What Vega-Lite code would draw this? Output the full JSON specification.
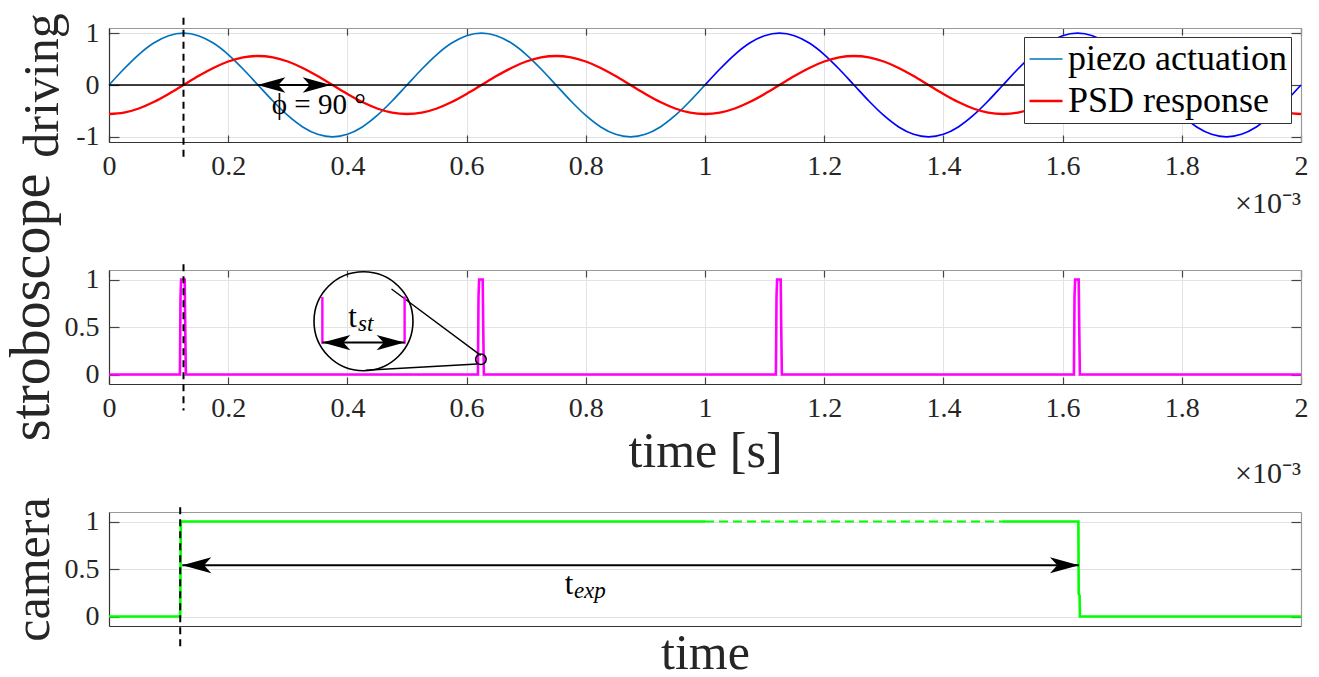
{
  "$schema": "https://vega.github.io/schema/vega-lite/v6.json",
  "padding": {"left": 3, "top": 12, "right": 5, "bottom": 2},
  "bounds": "flush",
  "spacing": 128,
  "background": "white",
  "config": {
    "font": "Liberation Serif",
    "view": {"stroke": null},
    "axis": {"labelFont": "Liberation Serif", "titleFont": "Liberation Serif", "labelFontSize": 28, "titleFontSize": 50, "titleFontWeight": "normal", "labelColor": "#262626", "titleColor": "#262626", "gridColor": "#e3e3e3", "gridWidth": 1, "tickColor": "#444", "domainColor": "#333", "domainWidth": 1.2, "tickWidth": 1.2, "labelFlush": false}
  },
  "datasets": {
    "one": [{}],
    "wave": [
      {"t":0,"p":0,"r":-0.56},{"t":0.025,"p":0.309,"r":-0.533},{"t":0.05,"p":0.588,"r":-0.453},{"t":0.075,"p":0.809,"r":-0.329},{"t":0.1,"p":0.951,"r":-0.173},
      {"t":0.125,"p":1,"r":0},{"t":0.15,"p":0.951,"r":0.173},{"t":0.175,"p":0.809,"r":0.329},{"t":0.2,"p":0.588,"r":0.453},{"t":0.225,"p":0.309,"r":0.533},
      {"t":0.25,"p":0,"r":0.56},{"t":0.275,"p":-0.309,"r":0.533},{"t":0.3,"p":-0.588,"r":0.453},{"t":0.325,"p":-0.809,"r":0.329},{"t":0.35,"p":-0.951,"r":0.173},
      {"t":0.375,"p":-1,"r":0},{"t":0.4,"p":-0.951,"r":-0.173},{"t":0.425,"p":-0.809,"r":-0.329},{"t":0.45,"p":-0.588,"r":-0.453},{"t":0.475,"p":-0.309,"r":-0.533},
      {"t":0.5,"p":0,"r":-0.56},{"t":0.525,"p":0.309,"r":-0.533},{"t":0.55,"p":0.588,"r":-0.453},{"t":0.575,"p":0.809,"r":-0.329},{"t":0.6,"p":0.951,"r":-0.173},
      {"t":0.625,"p":1,"r":0},{"t":0.65,"p":0.951,"r":0.173},{"t":0.675,"p":0.809,"r":0.329},{"t":0.7,"p":0.588,"r":0.453},{"t":0.725,"p":0.309,"r":0.533},
      {"t":0.75,"p":0,"r":0.56},{"t":0.775,"p":-0.309,"r":0.533},{"t":0.8,"p":-0.588,"r":0.453},{"t":0.825,"p":-0.809,"r":0.329},{"t":0.85,"p":-0.951,"r":0.173},
      {"t":0.875,"p":-1,"r":0},{"t":0.9,"p":-0.951,"r":-0.173},{"t":0.925,"p":-0.809,"r":-0.329},{"t":0.95,"p":-0.588,"r":-0.453},{"t":0.975,"p":-0.309,"r":-0.533},
      {"t":1,"p":0,"r":-0.56},{"t":1.025,"p":0.309,"r":-0.533},{"t":1.05,"p":0.588,"r":-0.453},{"t":1.075,"p":0.809,"r":-0.329},{"t":1.1,"p":0.951,"r":-0.173},
      {"t":1.125,"p":1,"r":0},{"t":1.15,"p":0.951,"r":0.173},{"t":1.175,"p":0.809,"r":0.329},{"t":1.2,"p":0.588,"r":0.453},{"t":1.225,"p":0.309,"r":0.533},
      {"t":1.25,"p":0,"r":0.56},{"t":1.275,"p":-0.309,"r":0.533},{"t":1.3,"p":-0.588,"r":0.453},{"t":1.325,"p":-0.809,"r":0.329},{"t":1.35,"p":-0.951,"r":0.173},
      {"t":1.375,"p":-1,"r":0},{"t":1.4,"p":-0.951,"r":-0.173},{"t":1.425,"p":-0.809,"r":-0.329},{"t":1.45,"p":-0.588,"r":-0.453},{"t":1.475,"p":-0.309,"r":-0.533},
      {"t":1.5,"p":0,"r":-0.56},{"t":1.525,"p":0.309,"r":-0.533},{"t":1.55,"p":0.588,"r":-0.453},{"t":1.575,"p":0.809,"r":-0.329},{"t":1.6,"p":0.951,"r":-0.173},
      {"t":1.625,"p":1,"r":0},{"t":1.65,"p":0.951,"r":0.173},{"t":1.675,"p":0.809,"r":0.329},{"t":1.7,"p":0.588,"r":0.453},{"t":1.725,"p":0.309,"r":0.533},
      {"t":1.75,"p":0,"r":0.56},{"t":1.775,"p":-0.309,"r":0.533},{"t":1.8,"p":-0.588,"r":0.453},{"t":1.825,"p":-0.809,"r":0.329},{"t":1.85,"p":-0.951,"r":0.173},
      {"t":1.875,"p":-1,"r":0},{"t":1.9,"p":-0.951,"r":-0.173},{"t":1.925,"p":-0.809,"r":-0.329},{"t":1.95,"p":-0.588,"r":-0.453},{"t":1.975,"p":-0.309,"r":-0.533},
      {"t":2,"p":0,"r":-0.56}
    ],
    "strobe": [
      {"t":0,"v":0},
      {"t":0.119,"v":0},{"t":0.12,"v":0.82},{"t":0.121,"v":1},{"t":0.127,"v":1},{"t":0.128,"v":0.45},{"t":0.129,"v":0},
      {"t":0.619,"v":0},{"t":0.62,"v":0.82},{"t":0.621,"v":1},{"t":0.627,"v":1},{"t":0.628,"v":0.45},{"t":0.629,"v":0},
      {"t":1.119,"v":0},{"t":1.12,"v":0.82},{"t":1.121,"v":1},{"t":1.127,"v":1},{"t":1.128,"v":0.45},{"t":1.129,"v":0},
      {"t":1.619,"v":0},{"t":1.62,"v":0.82},{"t":1.621,"v":1},{"t":1.627,"v":1},{"t":1.628,"v":0.45},{"t":1.629,"v":0},
      {"t":2,"v":0}
    ],
    "cam": [
      {"t":0,"v":0,"seg":"a"},{"t":0.1195,"v":0,"seg":"a"},{"t":0.1205,"v":1,"seg":"a"},{"t":1,"v":1,"seg":"a"},
      {"t":1,"v":1,"seg":"d"},{"t":1.5,"v":1,"seg":"d"},
      {"t":1.5,"v":1,"seg":"b"},{"t":1.6265,"v":1,"seg":"b"},{"t":1.627,"v":0.24,"seg":"b"},{"t":1.6285,"v":0.22,"seg":"b"},{"t":1.629,"v":0,"seg":"b"},{"t":2,"v":0,"seg":"b"}
    ]
  },
  "vconcat": [
    {
      "width": 1192,
      "height": 114,
      "layer": [
        {
          "data": {"name": "wave"},
          "transform": [{"filter": "datum.t >= 1"}],
          "mark": {"type": "line", "interpolate": "monotone", "color": "#0000FF", "strokeWidth": 1.7},
          "encoding": {
            "x": {"field": "t", "type": "quantitative", "scale": {"domain": [0, 2], "nice": false, "zero": false},
              "axis": {"orient": "bottom", "values": [0,0.2,0.4,0.6,0.8,1,1.2,1.4,1.6,1.8,2], "format": "~g", "tickSize": -7, "labelPadding": 17, "title": null, "grid": true}},
            "y": {"field": "p", "type": "quantitative", "scale": {"domain": [-1.1, 1.1], "nice": false, "zero": false},
              "axis": {"orient": "left", "values": [-1,0,1], "format": "~g", "labelExpr": "replace(datum.label,'−','-')", "tickSize": -10, "labelPadding": 20, "title": "driving", "titlePadding": 8, "grid": true}}
          }
        },
        {
          "data": {"name": "wave"},
          "transform": [{"fold": ["p", "r"], "as": ["s", "v"]}, {"filter": "datum.s == 'r' || datum.t <= 1"}],
          "mark": {"type": "line", "interpolate": "monotone"},
          "encoding": {
            "x": {"field": "t", "type": "quantitative", "axis": null},
            "y": {"field": "v", "type": "quantitative", "axis": null},
            "color": {"field": "s", "type": "nominal", "scale": {"domain": ["p", "r"], "range": ["#0072BD", "#FF0000"]},
              "legend": {"orient": "none", "legendX": 915, "legendY": 9, "direction": "vertical", "title": null, "symbolType": "stroke", "symbolSize": 1089, "symbolStrokeWidth": 2, "labelFontSize": 36, "labelColor": "black", "labelFont": "Liberation Serif", "strokeColor": "#333", "fillColor": "white", "padding": 4, "rowPadding": 6, "labelOffset": 4, "labelLimit": 500, "labelExpr": "datum.value == 'p' ? 'piezo actuation' : 'PSD response'"}},
            "strokeWidth": {"field": "s", "type": "nominal", "scale": {"domain": ["p", "r"], "range": [1.7, 2.3]}, "legend": null}
          }
        },
        {
          "data": {"name": "one"},
          "mark": {"type": "rule", "color": "black", "strokeWidth": 1.5},
          "encoding": {"x": {"datum": 0, "axis": null}, "x2": {"datum": 1.552}, "y": {"datum": 0, "axis": null}}
        },
        {
          "data": {"name": "one"},
          "mark": {"type": "rule", "color": "black", "strokeWidth": 2},
          "encoding": {"x": {"datum": 0.249, "axis": null}, "x2": {"datum": 0.372}, "y": {"datum": 0, "axis": null}}
        },
        {
          "data": {"name": "one"},
          "mark": {"type": "point", "shape": "M0,0L2,-0.55L1.5,0L2,0.55Z", "filled": true, "size": 784, "color": "black", "opacity": 1, "strokeWidth": 0},
          "encoding": {"x": {"datum": 0.249, "axis": null}, "y": {"datum": 0, "axis": null}}
        },
        {
          "data": {"name": "one"},
          "mark": {"type": "point", "shape": "M0,0L-2,-0.55L-1.5,0L-2,0.55Z", "filled": true, "size": 784, "color": "black", "opacity": 1, "strokeWidth": 0},
          "encoding": {"x": {"datum": 0.372, "axis": null}, "y": {"datum": 0, "axis": null}}
        },
        {
          "data": {"name": "one"},
          "mark": {"type": "text", "text": "ϕ = 90 °", "fontSize": 29, "align": "center", "baseline": "alphabetic", "color": "black"},
          "encoding": {"x": {"datum": 0.352, "axis": null}, "y": {"datum": -0.56, "axis": null}}
        },
        {
          "data": {"name": "one"},
          "mark": {"type": "text", "text": "×10⁻³", "fontSize": 30, "align": "right", "baseline": "alphabetic", "color": "#262626"},
          "encoding": {"x": {"datum": 2, "axis": null}, "y": {"datum": -2.47, "axis": null}}
        },
        {
          "data": {"name": "one"},
          "mark": {"type": "rule", "color": "black", "strokeWidth": 2, "strokeDash": [7, 5]},
          "encoding": {
            "x": {"datum": 0.125, "axis": {"orient": "top", "values": [0,0.2,0.4,0.6,0.8,1,1.2,1.4,1.6,1.8,2], "labels": false, "grid": false, "tickSize": -7, "domainColor": "#999", "title": null}},
            "y": {"datum": 1.3, "axis": {"orient": "right", "values": [-1,0,1], "labels": false, "grid": false, "tickSize": -10, "domainColor": "#999", "title": null}},
            "y2": {"datum": -1.42}
          }
        }
      ]
    },
    {
      "width": 1192,
      "height": 114,
      "layer": [
        {
          "data": {"name": "strobe"},
          "mark": {"type": "line", "color": "#FF00FF", "strokeWidth": 2.6},
          "encoding": {
            "x": {"field": "t", "type": "quantitative", "scale": {"domain": [0, 2], "nice": false, "zero": false},
              "axis": {"orient": "bottom", "values": [0,0.2,0.4,0.6,0.8,1,1.2,1.4,1.6,1.8,2], "format": "~g", "tickSize": -7, "labelPadding": 17, "title": "time [s]", "titlePadding": 4, "grid": true}},
            "y": {"field": "v", "type": "quantitative", "scale": {"domain": [-0.1, 1.1], "nice": false, "zero": false},
              "axis": {"orient": "left", "values": [0,0.5,1], "format": "~g", "tickSize": -10, "labelPadding": 20, "title": "stroboscope", "titlePadding": 4, "titleFontSize": 56, "titleY": 37, "grid": true}}
          }
        },
        {
          "data": {"name": "one"},
          "mark": {"type": "point", "shape": "circle", "filled": false, "size": 9801, "color": "black", "strokeWidth": 1.6, "opacity": 1},
          "encoding": {"x": {"datum": 0.427, "axis": null}, "y": {"datum": 0.56, "axis": null}}
        },
        {
          "data": {"name": "one"},
          "mark": {"type": "point", "shape": "circle", "filled": false, "size": 110, "color": "black", "strokeWidth": 1.6, "opacity": 1},
          "encoding": {"x": {"datum": 0.624, "axis": null}, "y": {"datum": 0.16, "axis": null}}
        },
        {
          "data": {"name": "one"},
          "mark": {"type": "rule", "color": "black", "strokeWidth": 1.4},
          "encoding": {"x": {"datum": 0.474, "axis": null}, "y": {"datum": 0.9, "axis": null}, "x2": {"datum": 0.6237}, "y2": {"datum": 0.201}}
        },
        {
          "data": {"name": "one"},
          "mark": {"type": "rule", "color": "black", "strokeWidth": 1.4},
          "encoding": {"x": {"datum": 0.4307, "axis": null}, "y": {"datum": 0.045, "axis": null}, "x2": {"datum": 0.618}, "y2": {"datum": 0.11}}
        },
        {
          "data": {"name": "one"},
          "mark": {"type": "rule", "color": "#FF00FF", "strokeWidth": 2.4},
          "encoding": {"x": {"datum": 0.358, "axis": null}, "y": {"datum": 0.323, "axis": null}, "y2": {"datum": 0.816}}
        },
        {
          "data": {"name": "one"},
          "mark": {"type": "rule", "color": "#FF00FF", "strokeWidth": 2.4},
          "encoding": {"x": {"datum": 0.496, "axis": null}, "y": {"datum": 0.323, "axis": null}, "y2": {"datum": 0.823}}
        },
        {
          "data": {"name": "one"},
          "mark": {"type": "rule", "color": "black", "strokeWidth": 2},
          "encoding": {"x": {"datum": 0.358, "axis": null}, "x2": {"datum": 0.496}, "y": {"datum": 0.336, "axis": null}}
        },
        {
          "data": {"name": "one"},
          "mark": {"type": "point", "shape": "M0,0L2,-0.55L1.5,0L2,0.55Z", "filled": true, "size": 784, "color": "black", "opacity": 1, "strokeWidth": 0},
          "encoding": {"x": {"datum": 0.358, "axis": null}, "y": {"datum": 0.336, "axis": null}}
        },
        {
          "data": {"name": "one"},
          "mark": {"type": "point", "shape": "M0,0L-2,-0.55L-1.5,0L-2,0.55Z", "filled": true, "size": 784, "color": "black", "opacity": 1, "strokeWidth": 0},
          "encoding": {"x": {"datum": 0.496, "axis": null}, "y": {"datum": 0.336, "axis": null}}
        },
        {
          "data": {"name": "one"},
          "mark": {"type": "text", "text": "t", "fontSize": 31, "align": "center", "baseline": "alphabetic", "color": "black"},
          "encoding": {"x": {"datum": 0.4086, "axis": null}, "y": {"datum": 0.503, "axis": null}}
        },
        {
          "data": {"name": "one"},
          "mark": {"type": "text", "text": "st", "fontSize": 23, "fontStyle": "italic", "align": "left", "baseline": "alphabetic", "color": "black"},
          "encoding": {"x": {"datum": 0.4178, "axis": null}, "y": {"datum": 0.46, "axis": null}}
        },
        {
          "data": {"name": "one"},
          "mark": {"type": "text", "text": "×10⁻³", "fontSize": 30, "align": "right", "baseline": "alphabetic", "color": "#262626"},
          "encoding": {"x": {"datum": 2, "axis": null}, "y": {"datum": -1.14, "axis": null}}
        },
        {
          "data": {"name": "one"},
          "mark": {"type": "rule", "color": "black", "strokeWidth": 2, "strokeDash": [7, 5]},
          "encoding": {
            "x": {"datum": 0.125, "axis": {"orient": "top", "values": [0,0.2,0.4,0.6,0.8,1,1.2,1.4,1.6,1.8,2], "labels": false, "grid": false, "tickSize": -7, "domainColor": "#999", "title": null}},
            "y": {"datum": 1.16, "axis": {"orient": "right", "values": [0,0.5,1], "labels": false, "grid": false, "tickSize": -10, "domainColor": "#999", "title": null}},
            "y2": {"datum": -0.38}
          }
        }
      ]
    },
    {
      "width": 1192,
      "height": 114,
      "layer": [
        {
          "data": {"name": "cam"},
          "transform": [{"filter": "datum.seg != 'd'"}],
          "mark": {"type": "line", "color": "#00FF00", "strokeWidth": 2.6},
          "encoding": {
            "x": {"field": "t", "type": "quantitative", "scale": {"domain": [0, 2], "nice": false, "zero": false},
              "axis": {"orient": "bottom", "labels": false, "ticks": false, "grid": false, "title": "time", "titlePadding": 2}},
            "y": {"field": "v", "type": "quantitative", "scale": {"domain": [-0.1, 1.1], "nice": false, "zero": false},
              "axis": {"orient": "left", "values": [0,0.5,1], "format": "~g", "tickSize": -10, "labelPadding": 20, "title": "camera", "titlePadding": 6, "grid": true}},
            "detail": {"field": "seg", "type": "nominal"}
          }
        },
        {
          "data": {"name": "cam"},
          "transform": [{"filter": "datum.seg == 'd'"}],
          "mark": {"type": "line", "color": "#00FF00", "strokeWidth": 2, "strokeDash": [9, 5]},
          "encoding": {
            "x": {"field": "t", "type": "quantitative", "axis": null},
            "y": {"field": "v", "type": "quantitative", "axis": null}
          }
        },
        {
          "data": {"name": "one"},
          "mark": {"type": "rule", "color": "black", "strokeWidth": 2},
          "encoding": {"x": {"datum": 0.123, "axis": null}, "x2": {"datum": 1.6275}, "y": {"datum": 0.54, "axis": null}}
        },
        {
          "data": {"name": "one"},
          "mark": {"type": "point", "shape": "M0,0L2,-0.55L1.5,0L2,0.55Z", "filled": true, "size": 841, "color": "black", "opacity": 1, "strokeWidth": 0},
          "encoding": {"x": {"datum": 0.123, "axis": null}, "y": {"datum": 0.54, "axis": null}}
        },
        {
          "data": {"name": "one"},
          "mark": {"type": "point", "shape": "M0,0L-2,-0.55L-1.5,0L-2,0.55Z", "filled": true, "size": 841, "color": "black", "opacity": 1, "strokeWidth": 0},
          "encoding": {"x": {"datum": 1.6275, "axis": null}, "y": {"datum": 0.54, "axis": null}}
        },
        {
          "data": {"name": "one"},
          "mark": {"type": "text", "text": "t", "fontSize": 31, "align": "center", "baseline": "alphabetic", "color": "black"},
          "encoding": {"x": {"datum": 0.772, "axis": null}, "y": {"datum": 0.236, "axis": null}}
        },
        {
          "data": {"name": "one"},
          "mark": {"type": "text", "text": "exp", "fontSize": 23, "fontStyle": "italic", "align": "left", "baseline": "alphabetic", "color": "black"},
          "encoding": {"x": {"datum": 0.78, "axis": null}, "y": {"datum": 0.195, "axis": null}}
        },
        {
          "data": {"name": "one"},
          "mark": {"type": "rule", "color": "black", "strokeWidth": 2, "strokeDash": [7, 5]},
          "encoding": {
            "x": {"datum": 0.1195, "axis": {"orient": "top", "labels": false, "ticks": false, "grid": false, "domainColor": "#999", "title": null}},
            "y": {"datum": 1.15, "axis": {"orient": "right", "values": [0,0.5,1], "labels": false, "grid": false, "tickSize": -10, "domainColor": "#999", "title": null}},
            "y2": {"datum": -0.32}
          }
        }
      ]
    }
  ]
}
